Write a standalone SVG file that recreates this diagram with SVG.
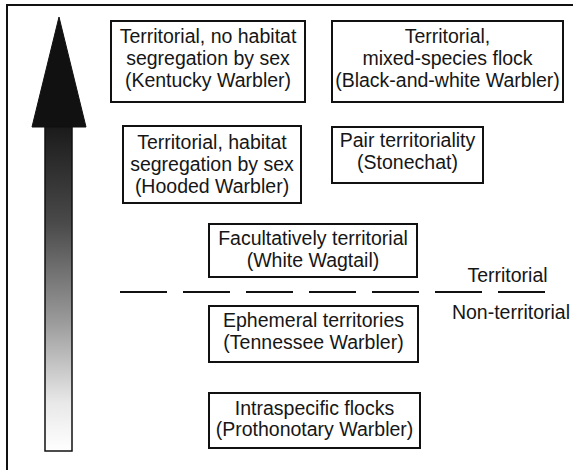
<svg xmlns="http://www.w3.org/2000/svg" width="573" height="470" viewBox="0 0 573 470">
<style>
.box{fill:#fff;stroke:#111;stroke-width:2}
text{font-family:"Liberation Sans",Arial,sans-serif;font-size:19.5px;fill:#161616;text-anchor:middle}
</style>
<defs>
<linearGradient id="shade" x1="0" y1="0" x2="0" y2="1">
<stop offset="0" stop-color="#1a1a1a"/>
<stop offset="0.3" stop-color="#4a4a4a"/>
<stop offset="0.6" stop-color="#9a9a9a"/>
<stop offset="0.85" stop-color="#e8e8e8"/>
<stop offset="1" stop-color="#ffffff"/>
</linearGradient>
</defs>
<rect x="0" y="0" width="573" height="470" fill="#fff"/>
<rect x="7" y="5" width="600" height="500" fill="none" stroke="#111" stroke-width="2"/>
<g id="arrow">
<rect x="45" y="126" width="27" height="325" fill="url(#shade)" stroke="#111" stroke-width="1.5"/>
<polygon points="59,17 86,127 32,127" fill="#111" stroke="#111" stroke-width="1"/>
</g>
<g id="connectors">
<line x1="120" y1="292" x2="546" y2="292" stroke="#111" stroke-width="2" stroke-dasharray="47 16"/>
</g>
<g id="kentucky">
<rect class="box" x="111" y="21" width="194" height="81"/>
<text x="208" y="43">Territorial, no habitat</text>
<text x="208" y="65">segregation by sex</text>
<text x="208" y="87">(Kentucky Warbler)</text>
</g>
<g id="blackwhite">
<rect class="box" x="332" y="21" width="231" height="81"/>
<text x="447.5" y="43">Territorial,</text>
<text x="447.5" y="65">mixed-species flock</text>
<text x="447.5" y="87">(Black-and-white Warbler)</text>
</g>
<g id="hooded">
<rect class="box" x="123" y="126" width="178" height="77"/>
<text x="212" y="149">Territorial, habitat</text>
<text x="212" y="171">segregation by sex</text>
<text x="212" y="193">(Hooded Warbler)</text>
</g>
<g id="stonechat">
<rect class="box" x="332" y="127" width="151" height="56"/>
<text x="407.5" y="147">Pair territoriality</text>
<text x="407.5" y="169">(Stonechat)</text>
</g>
<g id="wagtail">
<rect class="box" x="209" y="224" width="208" height="53"/>
<text x="313" y="245">Facultatively territorial</text>
<text x="313" y="267">(White Wagtail)</text>
</g>
<g id="labels">
<text x="507.5" y="282">Territorial</text>
<text x="511" y="319">Non-territorial</text>
</g>
<g id="tennessee">
<rect class="box" x="209" y="306" width="209" height="56"/>
<text x="313.5" y="327">Ephemeral territories</text>
<text x="313.5" y="349">(Tennessee Warbler)</text>
</g>
<g id="prothonotary">
<rect class="box" x="209" y="393" width="211" height="55"/>
<text x="314.5" y="415">Intraspecific flocks</text>
<text x="314.5" y="436">(Prothonotary Warbler)</text>
</g>
</svg>
